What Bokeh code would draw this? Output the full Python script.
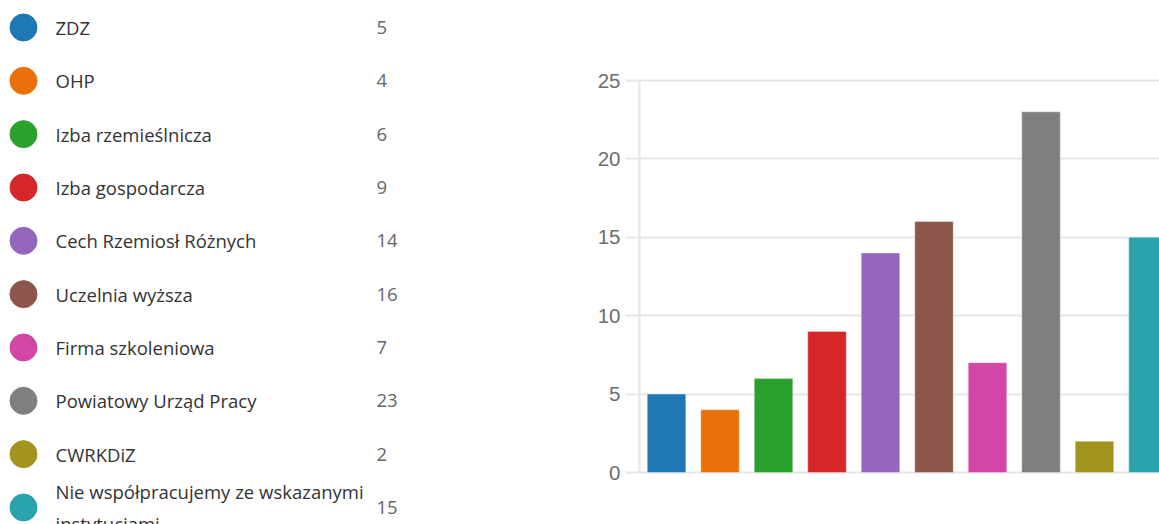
from bokeh.plotting import figure
from bokeh.models import Range1d, ColumnDataSource, FixedTicker
from bokeh.layouts import row
from bokeh.core.properties import value
from bokeh.embed import file_html
from bokeh.resources import INLINE

categories = ["ZDZ", "OHP", "Izba rzemieślnicza", "Izba gospodarcza",
              "Cech Rzemiosł Różnych", "Uczelnia wyższa", "Firma szkoleniowa",
              "Powiatowy Urząd Pracy", "CWRKDiZ",
              "Nie współpracujemy ze wskazanymi\ninstytucjami"]
counts = [5, 4, 6, 9, 14, 16, 7, 23, 2, 15]
colors = ["#1f77b4", "#e8710a", "#2ca02c", "#d62728", "#9467bd",
          "#8c564b", "#d247a6", "#7f7f7f", "#a39420", "#2aa3ae"]
y_ticks = [0, 5, 10, 15, 20, 25]

n = len(categories)
idx = list(range(n))
H = 524

# ---------- legend (left) ----------
leg = figure(width=440, height=H, output_backend="svg", toolbar_location=None,
             x_range=Range1d(0, 440), y_range=Range1d(9.319, -0.506),
             min_border=0, outline_line_color=None)
leg.axis.visible = False
leg.grid.visible = False
src = ColumnDataSource(dict(y=idx, label=categories,
                            num=[str(c) for c in counts], color=colors,
                            xc=[23] * n, xt=[55] * n, xn=[376] * n))
leg.scatter(x="xc", y="y", size=27, color="color", source=src)
leg.text(x="xt", y="y", text="label", source=src, text_baseline="middle",
         text_font=value("Open Sans"), text_font_size="18.5px",
         text_color="#333333", text_line_height=1.3)
leg.text(x="xn", y="y", text="num", source=src, text_baseline="middle",
         text_font=value("Open Sans"), text_font_size="18.5px",
         text_color="#666666")

# ---------- bar chart (right) ----------
p = figure(width=719, height=H, output_backend="svg", toolbar_location=None,
           x_range=Range1d(-0.505, 9.215), y_range=Range1d(-3.316, 30.102),
           min_border_left=199, min_border_right=0, min_border_top=0,
           min_border_bottom=0, outline_line_color=None)
p.vbar(x=idx, top=counts, width=0.72, color=colors, line_color="white",
       line_alpha=0.35, line_width=1)

p.xaxis.visible = False
p.xgrid.visible = False
p.ygrid.ticker = FixedTicker(ticks=y_ticks)
p.ygrid.grid_line_color = "#e6e6e6"
p.ygrid.grid_line_width = 2
p.yaxis.ticker = FixedTicker(ticks=y_ticks)
p.yaxis.bounds = (0, 25)
p.yaxis.axis_line_color = "#e6e6e6"
p.yaxis.axis_line_width = 2
p.yaxis.major_tick_line_color = "#e6e6e6"
p.yaxis.major_tick_line_width = 2
p.yaxis.major_tick_out = 14
p.yaxis.major_tick_in = 0
p.yaxis.minor_tick_line_color = None
p.yaxis.major_label_standoff = 5
p.yaxis.major_label_text_font = "Liberation Sans"
p.yaxis.major_label_text_font_size = "20.5px"
p.yaxis.major_label_text_color = "#6e6e6e"

layout = row(leg, p, spacing=0)
open("out.html", "w").write(file_html(layout, INLINE))
